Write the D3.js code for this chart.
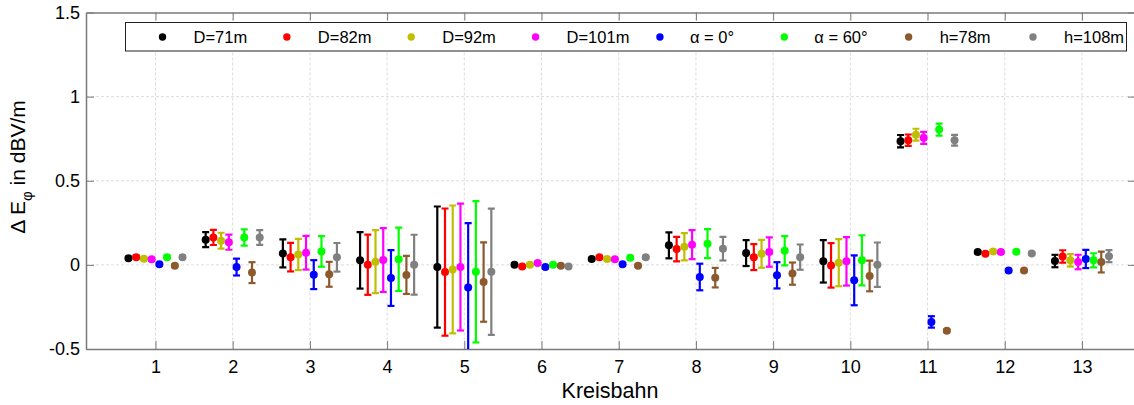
<!DOCTYPE html>
<html>
<head>
<meta charset="utf-8">
<script src="https://cdn.jsdelivr.net/npm/d3@7/dist/d3.min.js"></script>
<style>
	body { margin: 0; background: #fff; }
	text { font-family: "Liberation Sans", Arial, sans-serif; fill: #000; }
	.grid line { stroke: #dcdcdc; stroke-dasharray: 3,2; }
</style>
</head>
<body>
<div id="grafo"></div>
<script>
'use strict';

// Kreisbahnen und Serien
var kreisbahn = [1, 2, 3, 4, 5, 6, 7, 8, 9, 10, 11, 12, 13];
var serien = ["D=71m", "D=82m", "D=92m", "D=101m", "\u03b1 = 0\u00b0", "\u03b1 = 60\u00b0", "h=78m", "h=108m"];
var farben = ["#000000", "#ff0000", "#bfbf00", "#ff00ff", "#0000ff", "#00ff00", "#8c5a2d", "#808080"];

// Mittelwerte (dBV/m)
var d71  = [0.040, 0.150, 0.068, 0.027, -0.013, 0.001, 0.035, 0.116, 0.070, 0.021, 0.735, 0.076, 0.023];
var d82  = [0.046, 0.163, 0.046, 0.001, -0.043, -0.009, 0.045, 0.094, 0.046, -0.003, 0.741, 0.066, 0.050];
var d92  = [0.037, 0.144, 0.062, 0.019, -0.027, 0.001, 0.035, 0.108, 0.066, 0.013, 0.774, 0.080, 0.027];
var d101 = [0.033, 0.135, 0.072, 0.029, -0.013, 0.011, 0.033, 0.120, 0.076, 0.021, 0.755, 0.076, 0.017];
var a0   = [0.003, -0.013, -0.058, -0.078, -0.134, -0.013, 0.003, -0.072, -0.062, -0.092, -0.339, -0.033, 0.035];
var a60  = [0.046, 0.163, 0.080, 0.033, -0.041, 0.001, 0.043, 0.126, 0.084, 0.027, 0.804, 0.078, 0.027];
var h78  = [-0.005, -0.046, -0.056, -0.060, -0.102, -0.005, -0.005, -0.076, -0.052, -0.066, -0.391, -0.034, 0.017];
var h108 = [0.045, 0.163, 0.045, 0.001, -0.041, -0.009, 0.045, 0.096, 0.046, 0.001, 0.741, 0.068, 0.052];

// Fehler (+/-)
var d71_err  = [0.008, 0.045, 0.083, 0.168, 0.360, 0.006, 0.006, 0.077, 0.077, 0.126, 0.037, 0.006, 0.037];
var d82_err  = [0.008, 0.045, 0.085, 0.179, 0.378, 0.006, 0.006, 0.073, 0.077, 0.132, 0.034, 0.006, 0.037];
var d92_err  = [0.008, 0.047, 0.093, 0.187, 0.380, 0.006, 0.006, 0.081, 0.083, 0.140, 0.035, 0.006, 0.037];
var d101_err = [0.008, 0.045, 0.100, 0.190, 0.377, 0.006, 0.006, 0.086, 0.087, 0.144, 0.036, 0.006, 0.043];
var a0_err   = [0.008, 0.050, 0.086, 0.166, 0.382, 0.006, 0.006, 0.079, 0.078, 0.148, 0.034, 0.006, 0.054];
var a60_err  = [0.008, 0.048, 0.091, 0.188, 0.420, 0.006, 0.006, 0.086, 0.087, 0.149, 0.036, 0.006, 0.042];
var h78_err  = [0.008, 0.062, 0.074, 0.113, 0.236, 0.006, 0.006, 0.058, 0.066, 0.091, 0.008, 0.006, 0.062];
var h108_err = [0.008, 0.044, 0.085, 0.178, 0.375, 0.006, 0.006, 0.070, 0.075, 0.132, 0.032, 0.006, 0.036];

var yTicks = [-0.5, 0, 0.5, 1, 1.5];

var werte = [d71, d82, d92, d101, a0, a60, h78, h108];
var fehler = [d71_err, d82_err, d92_err, d101_err, a0_err, a60_err, h78_err, h108_err];

function drawGraph(){

	var width = 1134,
		height = 405;
	var left = 86, right = 1136, top = 12.5, bottom = 349;

	var svg = d3.select("#grafo").append("svg")
		.attr("width", width)
		.attr("height", height);

	var x = d3.scaleLinear().domain([0.1, 13.7]).range([left, right]);
	var y = d3.scaleLinear().domain([-0.5, 1.5]).range([bottom, top]);
	var versatz = d3.scaleLinear().domain([0, serien.length - 1]).range([-0.35, 0.35]);

	svg.append("defs").append("clipPath").attr("id", "clip")
		.append("rect")
		.attr("x", left).attr("y", top)
		.attr("width", right - left).attr("height", bottom - top);

	// Gitter
	var grid = svg.append("g").attr("class", "grid");
	grid.selectAll(".gx")
		.data(kreisbahn)
		.enter().append("line")
		.attr("x1", function(d) { return x(d); })
		.attr("x2", function(d) { return x(d); })
		.attr("y1", top).attr("y2", bottom);
	grid.selectAll(".gy")
		.data(yTicks.slice(1, -1))
		.enter().append("line")
		.attr("y1", function(d) { return y(d); })
		.attr("y2", function(d) { return y(d); })
		.attr("x1", left).attr("x2", right);

	// Achsen
	var achsFarbe = "#7a7a7a";
	var xAxis = svg.append("g")
		.attr("transform", "translate(0," + bottom + ")")
		.call(d3.axisBottom(x).tickValues(kreisbahn).tickSizeInner(-8).tickSizeOuter(0).tickPadding(11));
	var xTop = svg.append("g")
		.attr("transform", "translate(0," + top + ")")
		.call(d3.axisTop(x).tickValues(kreisbahn).tickSizeInner(-8).tickSizeOuter(0).tickFormat(""));
	var yAxis = svg.append("g")
		.attr("transform", "translate(" + left + ",0)")
		.call(d3.axisLeft(y).tickValues(yTicks).tickSizeInner(-8).tickSizeOuter(0).tickPadding(6).tickFormat(function(d){ return String(d); }));
	var yRight = svg.append("g")
		.attr("transform", "translate(" + right + ",0)")
		.call(d3.axisRight(y).tickValues(yTicks).tickSizeInner(-8).tickSizeOuter(0).tickFormat(""));

	[xAxis, xTop, yAxis, yRight].forEach(function(a){
		a.select(".domain").attr("stroke", achsFarbe).attr("stroke-width", 1.5);
		a.selectAll(".tick line").attr("stroke", achsFarbe);
		a.selectAll("text").attr("font-size", 18).attr("fill", "#000")
			.style("font-family", "'Liberation Sans', Arial, sans-serif");
	});

	// Fehlerbalken und Punkte
	var daten = [];
	serien.forEach(function(s, i){
		kreisbahn.forEach(function(k, j){
			daten.push({ serie: i, kb: k, wert: werte[i][j], err: fehler[i][j] });
		});
	});

	var plot = svg.append("g").attr("clip-path", "url(#clip)");
	var capW = 3.5;

	var eb = plot.selectAll(".eb")
		.data(daten)
		.enter().append("g")
		.attr("class", "eb")
		.attr("stroke", function(d) { return farben[d.serie]; })
		.attr("stroke-width", 2.2);

	eb.append("line")
		.attr("x1", function(d) { return x(d.kb + versatz(d.serie)); })
		.attr("x2", function(d) { return x(d.kb + versatz(d.serie)); })
		.attr("y1", function(d) { return y(d.wert + d.err); })
		.attr("y2", function(d) { return y(d.wert - d.err); });
	eb.append("line")
		.attr("x1", function(d) { return x(d.kb + versatz(d.serie)) - capW; })
		.attr("x2", function(d) { return x(d.kb + versatz(d.serie)) + capW; })
		.attr("y1", function(d) { return y(d.wert + d.err); })
		.attr("y2", function(d) { return y(d.wert + d.err); });
	eb.append("line")
		.attr("x1", function(d) { return x(d.kb + versatz(d.serie)) - capW; })
		.attr("x2", function(d) { return x(d.kb + versatz(d.serie)) + capW; })
		.attr("y1", function(d) { return y(d.wert - d.err); })
		.attr("y2", function(d) { return y(d.wert - d.err); });

	plot.selectAll(".punkt")
		.data(daten)
		.enter().append("circle")
		.attr("class", "punkt")
		.attr("cx", function(d) { return x(d.kb + versatz(d.serie)); })
		.attr("cy", function(d) { return y(d.wert); })
		.attr("r", 4)
		.style("fill", function(d) { return farben[d.serie]; });

	// Legende
	var leg = svg.append("g");
	leg.append("rect")
		.attr("x", 125.5).attr("y", 22.5)
		.attr("width", 1001).attr("height", 28.5)
		.attr("fill", "#fff").attr("stroke", "#222").attr("stroke-width", 1);

	var legX = d3.scaleLinear().domain([0, serien.length - 1]).range([162.5, 1033]);
	var item = leg.selectAll(".li")
		.data(serien)
		.enter().append("g")
		.attr("transform", function(d, i) { return "translate(" + legX(i) + ",37)"; });
	item.append("circle")
		.attr("r", 3.7)
		.style("fill", function(d, i) { return farben[i]; });
	item.append("text")
		.attr("x", function(d, i) { return (i === 4 || i === 5) ? 30 : 31; })
		.attr("dy", "0.36em")
		.attr("font-size", 16.5)
		.text(function(d) { return d; });

	// Achsentitel
	svg.append("text")
		.attr("x", (left + right) / 2 - 1).attr("y", 398)
		.attr("text-anchor", "middle")
		.attr("font-size", 21.5)
		.text("Kreisbahn");

	var yl = svg.append("text")
		.attr("transform", "translate(25,167) rotate(-90)")
		.attr("text-anchor", "middle")
		.attr("font-size", 21);
	yl.append("tspan").text("\u0394 E");
	yl.append("tspan").attr("dy", 7).attr("font-size", 15).text("\u03c6");
	yl.append("tspan").attr("dy", -7).text(" in dBV/m");
}

drawGraph();
</script>
</body>
</html>
